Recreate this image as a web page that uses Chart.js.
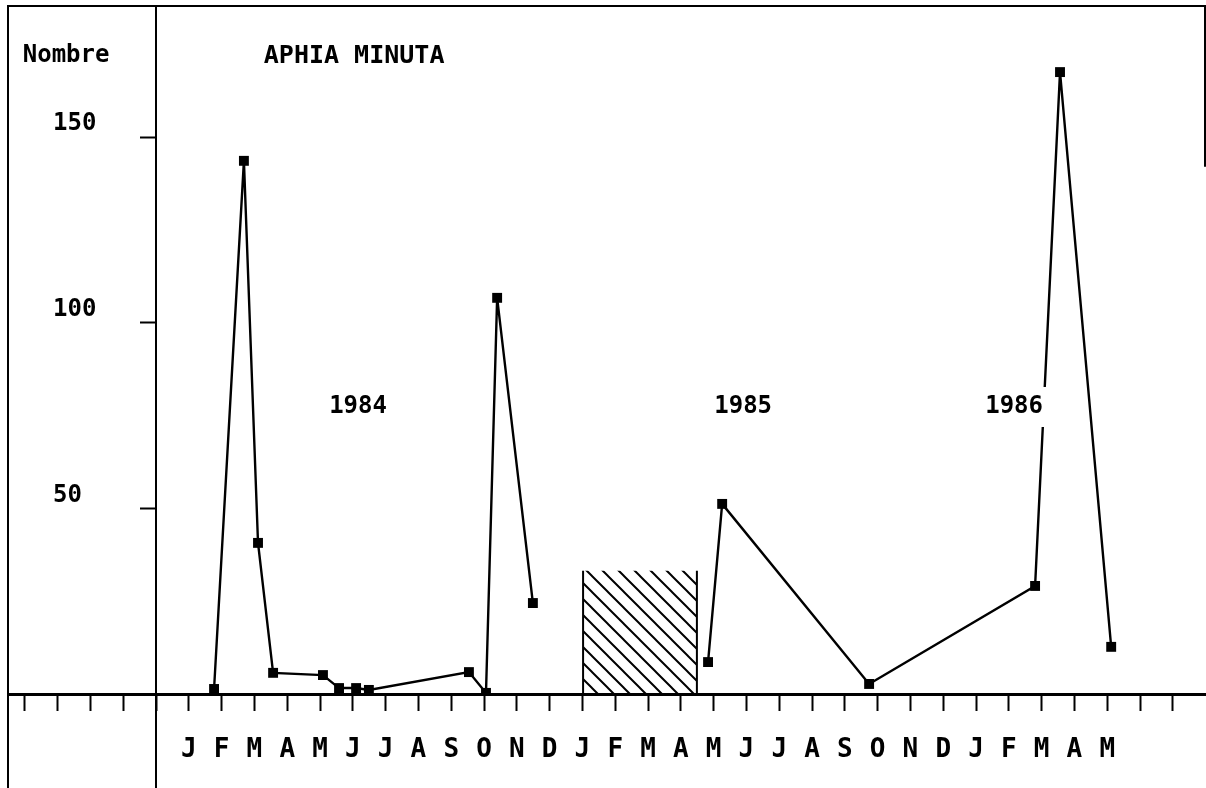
<!DOCTYPE html>
<html>
<head>
<meta charset="utf-8">
<script src="https://cdn.jsdelivr.net/npm/chart.js@4.4.1/dist/chart.umd.min.js"></script>
<style>
  html, body { margin: 0; padding: 0; background: #fff; }
  canvas { display: block; }
</style>
</head>
<body>
<canvas id="aphiaChart" width="1206" height="788"></canvas>
<script>
// axe des x en mois : 0 = décembre 1983, 1 = janvier 1984 ...
const moisLabels = ['J','F','M','A','M','J','J','A','S','O','N','D',
                    'J','F','M','A','M','J','J','A','S','O','N','D',
                    'J','F','M','A','M'];
const mois1984 = [1.77, 2.68, 3.11, 3.57, 5.09, 5.58, 6.10, 6.49, 9.54, 10.06, 10.40, 11.49];
const nombre1984 = [1.35, 143.6, 40.7, 5.7, 5.1, 1.6, 1.6, 1.1, 5.9, 0.3, 106.7, 24.5];
const mois1985 = [16.83, 17.26, 21.74, 26.80, 27.56, 29.12];
const nombre1985 = [8.6, 51.2, 2.7, 29.1, 167.5, 12.7];
const yTicks = [50, 100, 150];
const annees = ['1984', '1985', '1986'];
const anneesMois = [6.16, 17.9, 26.16];
const anneesNombre = 77.3;
// pas de prélèvement pendant cette période (zone hachurée)
const lacuneDebut = 13.02, lacuneFin = 16.49, lacuneHaut = 33.2;

const police = "'DejaVu Sans Mono', monospace";

// motif de hachures "\\\"
const tuile = document.createElement('canvas');
tuile.width = 16; tuile.height = 16;
const t = tuile.getContext('2d');
t.strokeStyle = '#000';
t.lineWidth = 2;
t.beginPath();
t.moveTo(-1, -1); t.lineTo(17, 17);
t.moveTo(-1, 15); t.lineTo(1, 17);
t.moveTo(15, -1); t.lineTo(17, 1);
t.stroke();

const ctx = document.getElementById('aphiaChart').getContext('2d');
const hachures = ctx.createPattern(tuile, 'repeat');

function points(xs, ys) {
    return xs.map((m, i) => ({x: m, y: ys[i]}));
}

const serie = {
    borderColor: '#000',
    backgroundColor: '#000',
    borderWidth: 2.4,
    pointStyle: 'rect',
    pointRadius: 7,
    pointBorderWidth: 0,
    tension: 0,
    fill: false
};

// cadre et prolongement de l'axe vertical sous l'axe des mois
const cadre = {
    id: 'cadre',
    afterDraw(chart) {
        const {ctx, chartArea: a, scales: {x, y}} = chart;
        const x0 = x.getPixelForValue(0);
        ctx.save();
        ctx.strokeStyle = '#000';
        ctx.lineWidth = 2;
        ctx.beginPath();
        ctx.moveTo(a.left, chart.height);
        ctx.lineTo(a.left, a.top);
        ctx.lineTo(a.right, a.top);
        ctx.lineTo(a.right, y.getPixelForValue(142));
        ctx.moveTo(x0, a.bottom);
        ctx.lineTo(x0, chart.height);
        ctx.stroke();
        ctx.restore();
    }
};

const textes = {
    id: 'textes',
    afterDatasetsDraw(chart) {
        const {ctx, scales: {x, y}} = chart;
        ctx.save();
        ctx.fillStyle = '#000';
        ctx.textBaseline = 'middle';
        ctx.textAlign = 'center';
        ctx.font = 'bold 24px ' + police;
        ctx.fillText('Nombre', x.getPixelForValue(-2.74), y.getPixelForValue(171.8));
        ctx.font = 'bold 25px ' + police;
        ctx.fillText('APHIA MINUTA', x.getPixelForValue(6.04), y.getPixelForValue(171.8));
        ctx.font = 'bold 24px ' + police;
        annees.forEach((txt, i) => {
            const px = x.getPixelForValue(anneesMois[i]);
            const py = y.getPixelForValue(anneesNombre);
            const w = ctx.measureText(txt).width;
            ctx.fillStyle = '#fff';
            ctx.fillRect(px - w / 2 - 4, py - 20, w + 8, 40);
            ctx.fillStyle = '#000';
            ctx.fillText(txt, px, py);
        });
        ctx.restore();
    }
};

new Chart(ctx, {
    type: 'line',
    data: {
        datasets: [
            {
                data: [
                    {x: lacuneDebut, y: 0}, {x: lacuneDebut, y: lacuneHaut},
                    {x: lacuneFin, y: lacuneHaut}, {x: lacuneFin, y: 0}
                ],
                borderColor: '#000',
                borderWidth: 2,
                backgroundColor: hachures,
                fill: 'origin',
                pointRadius: 0,
                segment: {
                    borderColor: c => c.p0DataIndex === 1 ? 'rgba(0,0,0,0)' : '#000'
                }
            },
            Object.assign({data: points(mois1984, nombre1984)}, serie),
            Object.assign({data: points(mois1985, nombre1985)}, serie)
        ]
    },
    options: {
        responsive: false,
        animation: false,
        devicePixelRatio: 1,
        layout: {autoPadding: false, padding: {top: 6, right: 1, bottom: 0, left: 0}},
        plugins: {legend: {display: false}, tooltip: {enabled: false}},
        scales: {
            x: {
                type: 'linear',
                position: 'bottom',
                min: -4.512,
                max: 31.98,
                afterBuildTicks: s => {
                    const tk = [];
                    for (let m = -4; m <= 31; m++) tk.push({value: m});
                    s.ticks = tk;
                },
                afterFit: s => { s.height = 94; s.paddingLeft = 0; s.paddingRight = 0; },
                ticks: {
                    autoSkip: false,
                    maxRotation: 0,
                    padding: 24,
                    color: '#000',
                    font: {family: police, size: 26, weight: 'bold'},
                    callback: v => (v >= 1 && v <= moisLabels.length) ? moisLabels[v - 1] : ''
                },
                grid: {drawOnChartArea: false, drawTicks: true, tickLength: 17, tickColor: '#000', tickWidth: 2},
                border: {display: true, color: '#000', width: 3}
            },
            y: {
                position: 'left',
                min: 0,
                max: 185.3,
                afterBuildTicks: s => { s.ticks = yTicks.map(v => ({value: v})); },
                afterFit: s => { s.width = 8; s.paddingTop = 0; s.paddingBottom = 0; },
                ticks: {
                    mirror: true,
                    crossAlign: 'near',
                    padding: 45,
                    labelOffset: -13,
                    color: '#000',
                    font: {family: police, size: 24, weight: 'bold'}
                },
                grid: {drawOnChartArea: false, drawTicks: false},
                border: {display: false}
            },
            // axe vertical tracé en x = 0, sans prendre de place dans la mise en page
            yAxe: {
                position: {x: 0},
                min: 0,
                max: 185.3,
                afterBuildTicks: s => { s.ticks = yTicks.map(v => ({value: v})); },
                afterFit: s => { s.width = 0; s.paddingTop = 0; s.paddingBottom = 0; },
                ticks: {display: false},
                grid: {drawOnChartArea: false, drawTicks: true, tickLength: 15, tickColor: '#000', tickWidth: 2},
                border: {display: true, color: '#000', width: 2}
            }
        }
    },
    plugins: [cadre, textes]
});
</script>
</body>
</html>
